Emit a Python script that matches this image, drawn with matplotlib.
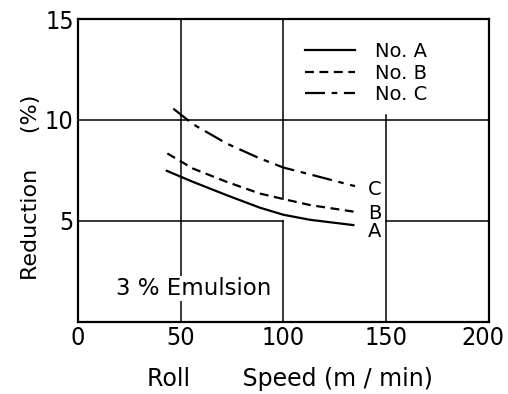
import numpy as np
import matplotlib.pyplot as plt
from matplotlib.transforms import ScaledTranslation

plt.rcParams['font.family'] = ['DejaVu Sans']

# roll speed (m/min) and reduction (%)
speed_a = [43.2, 56, 72.4, 88.6, 100, 113, 134]
red_a = [7.48, 6.93, 6.27, 5.65, 5.30, 5.05, 4.79]
speed_b = [43.5, 56, 72.4, 88.6, 100, 113, 134.5]
red_b = [8.34, 7.59, 6.93, 6.35, 6.08, 5.78, 5.45]
speed_c = [46.4, 56, 72.4, 88.6, 100, 113, 134.8]
red_c = [10.56, 9.79, 8.83, 8.09, 7.64, 7.30, 6.72]
names = ['No. A', 'No. B', 'No. C']
end_labels = ['A', 'B', 'C']
x_ticks = [0, 50, 100, 150, 200]
y_ticks = [5, 10, 15]

fig = plt.figure(figsize=(5.08, 3.94), dpi=100)
ax = fig.add_axes([0.1535, 0.1835, 0.809, 0.768])
ax.set_xlim(0, 200)
ax.set_ylim(0, 15)

# broken grid like the original drawing
gk = dict(color='black', lw=1.1, zorder=1)
ax.axhline(10, **gk)
ax.axhline(5, xmin=0, xmax=0.5, **gk)
ax.axhline(5, xmin=0.75, xmax=1, **gk)
ax.axvline(50, **gk)
ax.axvline(100, ymin=0.407, ymax=1, **gk)
ax.axvline(100, ymin=0, ymax=1/3, **gk)
ax.axvline(150, ymin=0, ymax=0.682, **gk)

la, = ax.plot(speed_a, red_a, color='black', lw=1.6, ls='-')
lb, = ax.plot(speed_b, red_b, color='black', lw=1.6, ls=(0, (4, 2.5)))
lc, = ax.plot(speed_c, red_c, color='black', lw=1.6, ls=(0, (9, 3, 2.5, 3)))

ax.text(141, 6.56, end_labels[2], fontsize=14, va='center')
ax.text(141, 5.38, end_labels[1], fontsize=14, va='center')
ax.text(141, 4.49, end_labels[0], fontsize=14, va='center')

ax.legend([la, lb, lc], names, loc='upper left', bbox_to_anchor=(0.552, 0.925),
          frameon=False, fontsize=14, handlelength=2.6, handletextpad=1.0,
          labelspacing=0.14, borderpad=0, borderaxespad=0)

ax.text(18.5, 1.65, '3 % Emulsion', fontsize=16.5, va='center',
        bbox=dict(facecolor='white', edgecolor='none', pad=1), zorder=2)

ax.set_xticks(x_ticks)
ax.set_yticks(y_ticks)
ax.tick_params(length=0, labelsize=18, pad=3)
for lab in ax.get_xticklabels() + ax.get_yticklabels():
    lab.set_fontstretch('condensed')
# pull the last x label in a little so it stays inside the figure
last = ax.get_xticklabels()[-1]
last.set_transform(last.get_transform() +
                   ScaledTranslation(-6 / 100, 0, fig.dpi_scale_trans))
for s in ax.spines.values():
    s.set_linewidth(1.6)

ax.set_xlabel('Roll       Speed (m / min)', fontsize=17, labelpad=12)
ax.xaxis.label.set_x(0.516)
ax.set_ylabel('Reduction     (%)', fontsize=16, labelpad=3)
ax.yaxis.label.set_y(0.443)

fig.savefig('out.png', dpi=100)
